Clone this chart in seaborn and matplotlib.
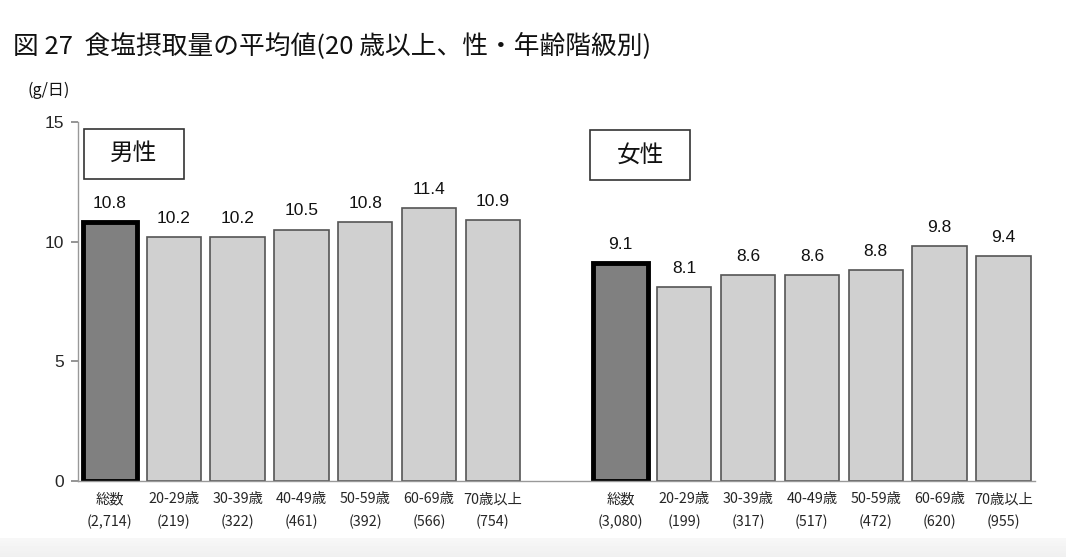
import matplotlib
matplotlib.use("Agg")
import matplotlib.pyplot as plt
import seaborn as sns
import pandas as pd
import numpy as np
from matplotlib.ticker import FixedLocator
from matplotlib.patches import Rectangle

sns.set_theme(style="white")
plt.rcParams['font.family'] = ['Noto Sans CJK JP', 'DejaVu Sans']

# ---- data ----
age_groups = ["総数", "20-29歳", "30-39歳", "40-49歳", "50-59歳", "60-69歳", "70歳以上"]
male_n = ["2,714", "219", "322", "461", "392", "566", "754"]
female_n = ["3,080", "199", "317", "517", "472", "620", "955"]
male_values = [10.8, 10.2, 10.2, 10.5, 10.8, 11.4, 10.9]
female_values = [9.1, 8.1, 8.6, 8.6, 8.8, 9.8, 9.4]
sex_labels = ["男性", "女性"]
title = "図 27  食塩摂取量の平均値(20 歳以上、性・年齢階級別)"
y_unit = "(g/日)"
y_ticks = [0, 5, 10, 15]

n = len(age_groups)
rows = []
for i, (g, v, c) in enumerate(zip(age_groups, male_values, male_n)):
    rows.append({"pos": i, "value": v, "label": f"{g}\n({c})", "total": i == 0})
for i, (g, v, c) in enumerate(zip(age_groups, female_values, female_n)):
    rows.append({"pos": n + 1 + i, "value": v, "label": f"{g}\n({c})", "total": i == 0})
df = pd.DataFrame(rows)

fig = plt.figure(figsize=(10.66, 5.57), dpi=100)

# soft grey strip at bottom (gradient)
bg = fig.add_axes([0, 0, 1, 0.035], zorder=-5)
grad = np.linspace(0.97, 0.94, 20).reshape(-1, 1)
bg.imshow(grad, aspect="auto", cmap="gray", vmin=0, vmax=1, extent=[0, 1, 0, 1])
bg.axis("off")

ax = fig.add_axes([0.0732, 0.1364, 0.898, 0.645])

sns.barplot(data=df, x="pos", y="value", native_scale=True, width=0.85,
            color="#d0d0d0", edgecolor="#555555", linewidth=1.2,
            errorbar=None, ax=ax)

for patch, tot in zip(ax.patches, df["total"]):
    if tot:
        patch.set_facecolor("#808080")
        patch.set_edgecolor("black")
        patch.set_linewidth(3.5)

for _, r in df.iterrows():
    ax.annotate(f"{r['value']:.1f}", (r["pos"], r["value"]), xytext=(0, 8),
                textcoords="offset points", ha="center", va="bottom",
                fontsize=12.5, family=["Liberation Sans", "DejaVu Sans"], color="#111111")

total_slots = 2 * n + 1
ax.set_xlim(-0.5, total_slots - 0.5)
ax.set_ylim(0, 15)
ax.set_yticks(y_ticks)
ax.set_yticklabels([str(t) for t in y_ticks], fontsize=12.5,
                   family=["Liberation Sans", "DejaVu Sans"])
ax.set_xticks(df["pos"].tolist())
ax.set_xticklabels(df["label"].tolist(), fontsize=10.3, linespacing=1.7)
ax.xaxis.set_minor_locator(FixedLocator([p - 0.5 for p in range(total_slots + 1)]))
ax.tick_params(axis="x", which="major", length=0, pad=8)
ax.tick_params(axis="x", which="minor", length=4, color="#888888", direction="out")
ax.tick_params(axis="y", length=5, color="#888888", direction="out", left=True, pad=5)
ax.set_xlabel("")
ax.set_ylabel("")

for s in ["top", "right"]:
    ax.spines[s].set_visible(False)
for s in ["left", "bottom"]:
    ax.spines[s].set_color("#999999")
    ax.spines[s].set_linewidth(1)

# sex label boxes
for lbl, x0, y0 in zip(sex_labels, [-0.406, 7.53], [12.62, 12.55]):
    ax.add_patch(Rectangle((x0, y0), 1.56, 2.09, facecolor="white", edgecolor="#333333",
                           linewidth=1.2, zorder=3))
    ax.text(x0 + 0.78, y0 + 1.045, lbl, ha="center", va="center", fontsize=17,
            color="#111111", zorder=4)

fig.text(0.012, 0.918, title, fontsize=18.5, ha="left", va="center", color="#111111")
fig.text(0.026, 0.838, y_unit, fontsize=11.5, ha="left", va="center", color="#111111")

fig.savefig("out.png", dpi=100)
